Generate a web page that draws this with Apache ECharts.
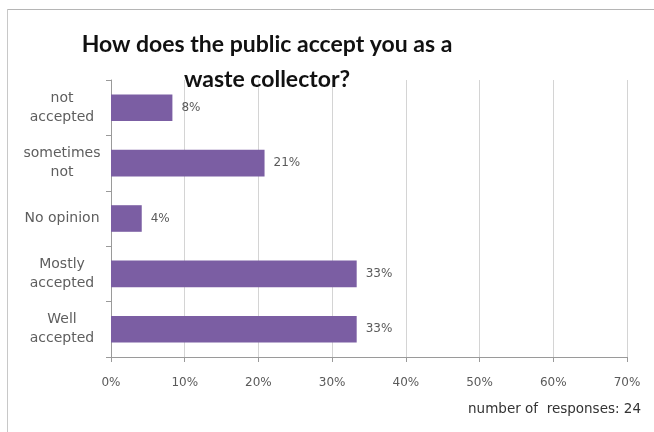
<!DOCTYPE html>
<html>
<head>
<meta charset="utf-8">
<script src="https://cdn.jsdelivr.net/npm/echarts@6/dist/echarts.min.js"></script>
<style>
html,body{margin:0;padding:0;background:#fff;}
#chart{width:654px;height:432px;}
</style>
</head>
<body>
<div id="chart"></div>
<script>
// Survey answers, top to bottom
const categories = ['not\naccepted', 'sometimes\nnot', 'No opinion', 'Mostly\naccepted', 'Well\naccepted'];
// Share of the 24 responses, in percent
const shares = [8.33, 20.83, 4.17, 33.33, 33.33];
const shareLabels = ['8%', '21%', '4%', '33%', '33%'];
const xTicks = [0, 10, 20, 30, 40, 50, 60, 70];

const chart = echarts.init(document.getElementById('chart'), null, {renderer: 'canvas'});
const titleFont = 'Lato, "Open Sans", sans-serif';
const font = '"DejaVu Sans", Verdana, sans-serif';

chart.setOption({
  animation: false,
  title: {
    text: 'How does the public accept you as a\nwaste collector?',
    left: 262,
    top: 22,
    textAlign: 'center',
    textStyle: {
      fontFamily: titleFont,
      fontWeight: 'bold',
      fontSize: 23,
      lineHeight: 35,
      color: '#111'
    }
  },
  grid: {left: 111, right: 27, top: 80, bottom: 75},
  xAxis: {
    type: 'value',
    min: xTicks[0],
    max: xTicks[xTicks.length - 1],
    interval: 10,
    axisLine: {show: true, lineStyle: {color: '#9a9a9a', width: 1}},
    axisTick: {show: true, length: 5, lineStyle: {color: '#9a9a9a'}},
    axisLabel: {
      margin: 20,
      formatter: v => v + '%',
      fontFamily: font,
      fontSize: 12,
      color: '#5a5a5a'
    },
    splitLine: {show: true, lineStyle: {color: '#d4d4d4', width: 1}}
  },
  yAxis: {
    type: 'category',
    data: categories,
    inverse: true,
    axisLine: {show: true, lineStyle: {color: '#9a9a9a', width: 1}},
    axisTick: {show: true, length: 5, alignWithLabel: false, lineStyle: {color: '#9a9a9a'}},
    axisLabel: {
      align: 'center',
      margin: 49,
      fontFamily: font,
      fontSize: 14,
      lineHeight: 19,
      color: '#5e5e5e'
    }
  },
  series: [{
    type: 'bar',
    data: shares,
    barWidth: '48%',
    itemStyle: {color: '#7b5ea3'},
    label: {
      show: true,
      position: 'right',
      distance: 9,
      formatter: p => shareLabels[p.dataIndex],
      fontFamily: font,
      fontSize: 12,
      color: '#5a5a5a'
    }
  }],
  graphic: [
    {type: 'line', shape: {x1: 7, y1: 9.5, x2: 654, y2: 9.5}, style: {stroke: '#b5b5b5', lineWidth: 1}, silent: true},
    {type: 'line', shape: {x1: 7.5, y1: 9, x2: 7.5, y2: 432}, style: {stroke: '#c8c8c8', lineWidth: 1}, silent: true},
    {
      type: 'text',
      right: 13,
      top: 402,
      style: {text: 'number of  responses: 24', font: '13.5px ' + font, fill: '#333'},
      silent: true
    }
  ]
});
</script>
</body>
</html>
